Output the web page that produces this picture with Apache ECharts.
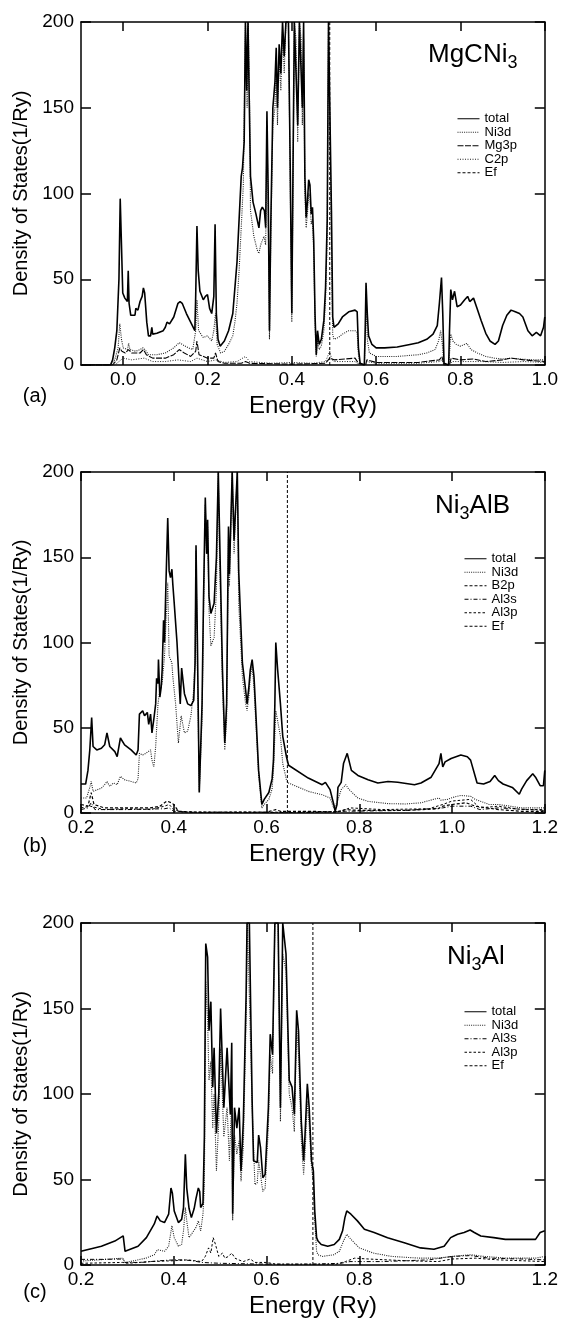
<!DOCTYPE html>
<html><head><meta charset="utf-8">
<script src="https://cdn.jsdelivr.net/npm/echarts@6/dist/echarts.min.js"></script>
<style>html,body{margin:0;padding:0;background:#fff}#c{width:561px;height:1324px}</style>
</head><body><div id="c"></div>
<script>
const FONT = '"Liberation Sans", Arial, Helvetica, sans-serif';
const aTicks = [0.0, 0.2, 0.4, 0.6, 0.8, 1.0];
const bcTicks = [0.2, 0.4, 0.6, 0.8, 1.0, 1.2];
const yTicks = [0, 50, 100, 150, 200];
const a_ef = 0.49, b_ef = 0.645, c_ef = 0.70;

// ---- panel (a) MgCNi3 ----
const a_total = [[-0.1,0],[-0.03,0],[-0.025,3],[-0.02,10],[-0.015,20],[-0.01,50],[-0.007,97],[-0.004,70],[-0.001,42],[0.004,39],[0.01,37],[0.012,55],[0.014,36],[0.018,29],[0.028,29],[0.03,33],[0.035,32],[0.04,37],[0.045,40],[0.048,45],[0.051,42],[0.056,25],[0.06,17],[0.065,17],[0.068,22],[0.07,18],[0.08,18.5],[0.095,20],[0.1,22],[0.104,25],[0.11,24],[0.12,28],[0.13,36],[0.135,37],[0.14,36],[0.15,30],[0.16,25],[0.17,20],[0.172,40],[0.175,81],[0.178,55],[0.182,43],[0.19,38],[0.195,40],[0.2,41],[0.205,33],[0.21,30],[0.215,40],[0.218,82],[0.221,30],[0.225,15],[0.23,11],[0.24,14],[0.25,20],[0.26,30],[0.265,45],[0.27,60],[0.275,85],[0.28,110],[0.283,115],[0.287,130],[0.29,200],[0.293,160],[0.296,200],[0.3,200],[0.302,110],[0.308,95],[0.315,88],[0.322,80],[0.326,90],[0.33,92],[0.335,90],[0.338,80],[0.341,148],[0.344,100],[0.347,20],[0.35,80],[0.355,150],[0.36,165],[0.363,185],[0.366,150],[0.37,187],[0.374,170],[0.378,200],[0.382,180],[0.386,200],[0.392,200],[0.396,120],[0.4,30],[0.403,120],[0.406,200],[0.41,200],[0.414,140],[0.418,200],[0.422,200],[0.425,150],[0.428,200],[0.431,110],[0.434,86],[0.437,95],[0.44,108],[0.443,105],[0.446,88],[0.449,92],[0.452,72],[0.455,30],[0.458,6],[0.461,20],[0.465,12],[0.47,15],[0.476,26],[0.48,45],[0.484,85],[0.487,200],[0.491,200],[0.494,90],[0.497,28],[0.5,22],[0.51,24],[0.52,28],[0.535,31],[0.55,32],[0.555,31],[0.558,10],[0.562,1],[0.572,0],[0.574,20],[0.576,48],[0.579,30],[0.582,17],[0.59,12],[0.6,10],[0.62,10],[0.65,10.5],[0.68,12],[0.7,13],[0.72,15],[0.735,18],[0.745,23],[0.75,36],[0.755,51],[0.758,30],[0.761,1],[0.772,0],[0.774,20],[0.777,44],[0.781,38],[0.786,43],[0.792,34],[0.8,35],[0.81,38],[0.817,40],[0.822,37],[0.831,39],[0.838,34],[0.849,26],[0.86,18.5],[0.87,14],[0.882,12],[0.89,14],[0.9,23],[0.91,29],[0.92,32],[0.93,31],[0.94,30],[0.948,28],[0.96,20],[0.97,17],[0.98,19],[0.99,17],[0.997,22],[1.0,28]];
const a_ni3d = [[-0.1,0],[-0.03,0],[-0.02,3],[-0.012,10],[-0.008,24],[-0.004,15],[0.0,10],[0.01,9],[0.013,12.6],[0.016,9],[0.03,8],[0.04,9],[0.047,10],[0.052,9],[0.06,6],[0.08,6],[0.1,7],[0.12,10],[0.133,13],[0.14,12],[0.155,10],[0.165,9],[0.172,20],[0.175,38],[0.179,20],[0.19,16],[0.2,17],[0.21,14],[0.215,20],[0.219,30],[0.223,12],[0.231,7],[0.24,8],[0.25,12],[0.26,17],[0.265,25],[0.27,36],[0.275,55],[0.28,80],[0.285,105],[0.29,200],[0.294,150],[0.297,200],[0.3,150],[0.302,90],[0.31,75],[0.318,67],[0.322,65],[0.326,70],[0.334,75],[0.338,70],[0.341,140],[0.344,90],[0.347,15],[0.35,70],[0.355,140],[0.36,150],[0.363,175],[0.366,140],[0.37,180],[0.374,160],[0.378,195],[0.382,170],[0.386,200],[0.392,200],[0.396,110],[0.4,25],[0.403,110],[0.406,200],[0.41,190],[0.414,130],[0.418,200],[0.422,190],[0.425,140],[0.428,190],[0.431,100],[0.434,80],[0.437,88],[0.44,100],[0.443,98],[0.446,82],[0.449,85],[0.452,65],[0.455,25],[0.458,5],[0.461,15],[0.465,9],[0.47,11],[0.476,20],[0.48,38],[0.484,75],[0.487,200],[0.491,200],[0.494,70],[0.497,18],[0.5,15],[0.51,16],[0.52,18],[0.535,20],[0.55,20],[0.555,19],[0.558,6],[0.562,0.5],[0.572,0],[0.574,15],[0.576,36],[0.579,15],[0.584,7],[0.6,5],[0.65,5],[0.7,6],[0.72,7],[0.74,9],[0.748,14],[0.753,20],[0.757,12],[0.761,0.5],[0.772,0],[0.775,10],[0.777,18],[0.782,14],[0.79,12],[0.8,11],[0.815,12.6],[0.825,9],[0.84,7],[0.86,5],[0.88,4],[0.9,3.5],[0.92,4],[0.94,3.5],[0.97,3],[1.0,3]];
const a_mg3p = [[-0.1,0],[-0.025,0],[-0.015,3],[-0.008,10],[-0.003,8],[0.005,7],[0.013,9],[0.02,7],[0.04,7],[0.048,9],[0.055,6],[0.07,4],[0.1,4],[0.12,6],[0.133,9],[0.145,7],[0.16,5],[0.172,8],[0.175,14],[0.18,6],[0.2,4],[0.215,4],[0.219,7],[0.225,2],[0.24,1],[0.28,1],[0.29,2],[0.3,1],[0.4,0.5],[0.48,1],[0.49,4],[0.5,3],[0.55,4],[0.558,1],[0.562,0],[0.575,0],[0.578,3],[0.6,1.5],[0.7,1.5],[0.75,3],[0.756,5],[0.761,0],[0.774,0],[0.778,4],[0.8,3],[0.83,3.5],[0.86,2],[0.9,3],[0.92,4],[0.95,3],[1.0,2]];
const a_c2p = [[-0.1,0],[-0.02,0],[-0.01,2],[0.0,4],[0.02,3],[0.05,4],[0.07,2],[0.1,2],[0.13,3],[0.16,2],[0.175,4],[0.2,2],[0.22,3],[0.24,1.5],[0.27,2],[0.29,5],[0.3,2],[0.35,1],[0.4,1.5],[0.45,1],[0.48,2],[0.49,8],[0.495,3],[0.5,2],[0.55,2],[0.558,0.5],[0.575,0],[0.578,2],[0.6,1],[0.7,1],[0.75,2],[0.756,3],[0.761,0],[0.774,0],[0.78,2],[0.8,2],[0.85,2],[0.9,1.5],[0.95,2],[1.0,1.5]];

// ---- panel (b) Ni3AlB ----
const b_total = [[0.2,17],[0.21,17],[0.215,25],[0.219,37],[0.223,56],[0.226,39],[0.234,37],[0.244,38],[0.251,40],[0.256,47],[0.262,39],[0.273,36],[0.278,33],[0.285,44],[0.294,40],[0.308,37],[0.319,34],[0.323,37],[0.326,58],[0.333,60],[0.337,57],[0.343,59],[0.346,52],[0.35,58],[0.353,47],[0.357,55],[0.361,64],[0.363,79],[0.366,76],[0.367,90],[0.37,68],[0.373,74],[0.375,84],[0.378,113],[0.38,100],[0.383,133],[0.387,173],[0.39,142],[0.393,138],[0.396,143],[0.398,134],[0.401,123],[0.407,100],[0.414,64],[0.417,85],[0.423,70],[0.43,64],[0.437,63],[0.443,66],[0.446,88],[0.448,157],[0.451,100],[0.455,12],[0.461,64],[0.464,123],[0.468,185],[0.471,152],[0.473,172],[0.476,127],[0.48,117],[0.487,123],[0.492,150],[0.496,200],[0.498,200],[0.505,84],[0.51,41],[0.514,64],[0.518,168],[0.52,140],[0.526,200],[0.53,160],[0.537,200],[0.54,142],[0.548,88],[0.555,72],[0.558,64],[0.562,74],[0.565,84],[0.569,90],[0.573,80],[0.576,64],[0.583,25],[0.59,5],[0.595,8],[0.605,12],[0.612,20],[0.615,31],[0.618,64],[0.62,100],[0.624,84],[0.63,64],[0.635,45],[0.643,33],[0.6475,28],[0.69,20.5],[0.72,16.6],[0.727,18],[0.737,13.7],[0.745,5],[0.748,1],[0.752,5],[0.754,15],[0.761,18],[0.766,29],[0.774,35],[0.777,34],[0.783,25],[0.797,22],[0.819,19.5],[0.84,17.6],[0.862,18.5],[0.883,18],[0.919,16.6],[0.933,17.6],[0.955,21],[0.972,29],[0.976,35],[0.98,27],[0.985,30],[0.998,32],[1.019,34],[1.033,33],[1.04,31],[1.054,17.6],[1.068,17],[1.082,18.5],[1.092,22],[1.1,19],[1.11,17],[1.13,15],[1.145,11],[1.15,14],[1.161,19],[1.174,23],[1.18,21],[1.19,16],[1.197,16],[1.2,25]];
const b_ni3d = [[0.2,8.8],[0.212,8.8],[0.219,15],[0.222,18.5],[0.226,12.7],[0.244,14.6],[0.251,16.6],[0.256,18.5],[0.262,15.6],[0.27,17.6],[0.278,16.6],[0.285,21.5],[0.294,19.5],[0.308,18.5],[0.319,17.6],[0.323,20],[0.326,35],[0.333,34],[0.34,35],[0.35,37],[0.353,31],[0.357,27],[0.361,39],[0.366,64],[0.37,72],[0.375,76],[0.38,92],[0.387,135],[0.39,92],[0.396,88],[0.398,80],[0.404,64],[0.41,41],[0.416,57],[0.423,47],[0.43,48],[0.437,57],[0.443,72],[0.446,92],[0.448,154],[0.451,84],[0.455,12.7],[0.461,55],[0.464,113],[0.468,181],[0.471,152],[0.473,168],[0.476,119],[0.48,98],[0.487,103],[0.492,131],[0.496,200],[0.498,160],[0.505,74],[0.51,37],[0.514,55],[0.518,162],[0.52,133],[0.526,200],[0.53,152],[0.537,200],[0.54,123],[0.548,80],[0.555,64],[0.558,60],[0.562,68],[0.565,80],[0.569,86],[0.573,74],[0.576,58],[0.583,21.5],[0.59,3],[0.595,5],[0.605,8],[0.612,14],[0.615,25],[0.618,45],[0.62,60],[0.624,54],[0.63,45],[0.635,29],[0.643,19.5],[0.6475,17.6],[0.69,12.7],[0.72,10.7],[0.737,8.8],[0.745,3],[0.748,2],[0.752,6],[0.761,13.7],[0.771,16.6],[0.777,14],[0.797,8.8],[0.819,6.8],[0.862,5.5],[0.9,5.3],[0.933,6],[0.96,8],[0.972,8.8],[0.976,7.5],[0.99,8],[1.0,9],[1.019,10.3],[1.04,9.8],[1.05,8],[1.08,5],[1.1,5],[1.15,3],[1.2,3]];
const b_b2p = [[0.2,5],[0.215,4],[0.222,12],[0.228,5],[0.25,3],[0.3,3],[0.35,3],[0.37,4],[0.385,7],[0.395,6],[0.4,5],[0.41,1],[0.45,0.5],[0.6,0.5],[0.62,2],[0.63,1],[0.7,1],[0.75,0.5],[0.77,2],[0.8,1.5],[0.9,1.5],[0.97,2.5],[0.98,4],[1.0,5],[1.03,6],[1.05,4],[1.1,2],[1.15,1],[1.2,1]];
const b_al3s = [[0.2,2],[0.215,3],[0.222,6],[0.23,2],[0.3,2],[0.38,2.5],[0.39,3],[0.4,1],[0.45,0.3],[0.7,0.3],[0.77,1],[0.9,1.5],[0.98,3],[1.0,4],[1.04,4],[1.06,2],[1.1,3],[1.2,1.5]];
const b_al3p = [[0.2,3],[0.22,4],[0.25,2],[0.3,2.5],[0.35,2],[0.38,4],[0.39,5],[0.4,2],[0.42,0.5],[0.6,0.5],[0.7,0.5],[0.76,1],[0.78,3],[0.85,2],[0.95,2.5],[0.98,5],[1.0,7],[1.04,8],[1.06,3],[1.1,4],[1.15,2],[1.2,2]];

// ---- panel (c) Ni3Al ----
const c_total = [[0.2,8],[0.244,11],[0.273,14],[0.291,17],[0.293,18],[0.295,8],[0.323,11],[0.341,16],[0.358,24],[0.364,28.7],[0.371,25.8],[0.38,24.8],[0.389,29.7],[0.394,45],[0.397,42],[0.401,31.6],[0.41,24.8],[0.417,26.7],[0.421,33.6],[0.425,64.8],[0.428,45],[0.433,33],[0.438,27.7],[0.444,33],[0.448,39],[0.453,45],[0.456,43],[0.458,33.6],[0.463,36],[0.466,75],[0.469,188],[0.473,180],[0.476,137],[0.48,154],[0.484,104],[0.487,127],[0.492,77],[0.497,100],[0.501,150],[0.508,92],[0.515,127],[0.518,110],[0.522,88],[0.525,130],[0.527,30],[0.531,92],[0.536,80],[0.541,92],[0.545,55],[0.55,84],[0.556,158],[0.558,200],[0.563,200],[0.569,96],[0.572,61],[0.58,60],[0.583,76],[0.587,69],[0.592,51],[0.597,53],[0.604,92],[0.608,135],[0.613,123],[0.618,200],[0.625,200],[0.63,92],[0.635,200],[0.642,182],[0.649,108],[0.655,104],[0.66,88],[0.665,149],[0.669,137],[0.675,84],[0.68,61],[0.683,76],[0.688,106],[0.692,92],[0.697,61],[0.701,55],[0.704,31.6],[0.708,16],[0.711,14],[0.718,12],[0.732,11],[0.746,12],[0.757,15],[0.764,20],[0.769,27.7],[0.773,31.6],[0.782,29.7],[0.796,25.8],[0.811,20.9],[0.832,19],[0.861,16],[0.897,13],[0.932,10],[0.961,9.2],[0.983,11],[0.997,16],[1.004,17],[1.012,18],[1.026,19],[1.039,20.5],[1.048,19],[1.062,17],[1.09,16],[1.115,15],[1.15,15],[1.18,15],[1.19,19],[1.2,20]];
const c_ni3d = [[0.2,2.3],[0.29,4],[0.295,1.4],[0.34,4],[0.358,6],[0.365,9],[0.38,8],[0.389,11],[0.396,23],[0.401,16],[0.41,11],[0.417,12],[0.421,20],[0.425,33.6],[0.428,25.8],[0.433,16],[0.438,18],[0.448,22],[0.453,25.8],[0.458,20],[0.463,29.7],[0.466,45],[0.469,166],[0.473,143],[0.476,108],[0.48,119],[0.484,80],[0.487,100],[0.492,55],[0.497,84],[0.501,127],[0.508,75],[0.515,92],[0.52,61],[0.525,98],[0.527,26],[0.531,76],[0.536,65],[0.541,73],[0.545,49],[0.55,69],[0.556,143],[0.559,200],[0.563,200],[0.569,92],[0.575,47],[0.58,48],[0.583,61],[0.587,53],[0.592,43],[0.597,45],[0.604,80],[0.608,123],[0.613,112],[0.618,200],[0.625,200],[0.63,84],[0.635,182],[0.642,172],[0.649,100],[0.655,92],[0.66,78],[0.665,139],[0.669,123],[0.675,73],[0.68,53],[0.683,65],[0.688,96],[0.692,82],[0.697,57],[0.701,49],[0.704,26],[0.708,8],[0.711,6],[0.72,5],[0.745,6],[0.757,8],[0.766,14],[0.773,18],[0.782,15],[0.8,10],[0.83,7],[0.87,5],[0.93,4],[0.97,4],[1.0,5],[1.04,6],[1.07,5],[1.12,4],[1.18,4],[1.2,5]];
const c_al3s = [[0.2,3.3],[0.25,3.3],[0.29,3.5],[0.295,1.5],[0.33,1.5],[0.37,2.5],[0.4,3],[0.42,3],[0.44,2.5],[0.46,1.5],[0.5,1],[0.6,0.5],[0.7,0.5],[0.76,1],[0.78,2],[0.85,2],[0.95,3],[1.0,5],[1.04,5.5],[1.08,4],[1.15,3.5],[1.2,3]];
const c_al3p = [[0.2,1],[0.29,1.5],[0.3,1],[0.35,2],[0.4,2.5],[0.43,3],[0.46,2],[0.468,5],[0.475,10],[0.48,7],[0.485,16],[0.49,12],[0.497,5],[0.505,7],[0.51,4],[0.518,5],[0.525,7],[0.532,4],[0.54,3],[0.55,2],[0.565,3.5],[0.575,1.5],[0.6,1.5],[0.62,0.5],[0.75,0.5],[0.77,2],[0.79,4],[0.82,3.5],[0.9,2.5],[0.97,2],[1.0,3.5],[1.05,4],[1.1,3],[1.2,2]];

const STY = {
  total: {type: 'solid', width: 1.6, color: '#000'},
  Ni3d:  {type: [1, 1.2], width: 1.1, color: '#222'},
  Mg3p:  {type: [6, 1.5], width: 1.1, color: '#000'},
  C2p:   {type: [1, 1.5], width: 1, color: '#222'},
  B2p:   {type: [3, 2], width: 1.2, color: '#000'},
  Al3s:  {type: [4, 2, 1, 2], width: 1, color: '#000'},
  Al3p:  {type: [2.5, 2], width: 1, color: '#000'},
  Ef:    {type: [3, 2], width: 1, color: '#000'}
};

const panels = [
  {grid: {left: 81, top: 22, width: 465, height: 343}, xmin: -0.1, xmax: 1.0, ticks: aTicks, ef: a_ef,
   series: [['total', a_total], ['Ni3d', a_ni3d], ['Mg3p', a_mg3p], ['C2p', a_c2p]],
   title: '{m|MgCNi}{s|3}', tx: 428, ty: 42, tag: '(a)', tagY: 396, legLeft: 457, legTop: 112},
  {grid: {left: 81, top: 472, width: 467, height: 341}, xmin: 0.2, xmax: 1.2, ticks: bcTicks, ef: b_ef,
   series: [['total', b_total], ['Ni3d', b_ni3d], ['B2p', b_b2p], ['Al3s', b_al3s], ['Al3p', b_al3p]],
   title: '{m|Ni}{s|3}{m|AlB}', tx: 435, ty: 493, tag: '(b)', tagY: 846, legLeft: 464, legTop: 552},
  {grid: {left: 81, top: 923, width: 467, height: 342}, xmin: 0.2, xmax: 1.2, ticks: bcTicks, ef: c_ef,
   series: [['total', c_total], ['Ni3d', c_ni3d], ['Al3s', c_al3s], ['Al3p', c_al3p]],
   title: '{m|Ni}{s|3}{m|Al}', tx: 447, ty: 944, tag: '(c)', tagY: 1292, legLeft: 464, legTop: 1005}
];

const axisLine = {show: true, onZero: false, lineStyle: {color: '#000', width: 1.5}};
const option = {
  animation: false, backgroundColor: '#fff',
  textStyle: {fontFamily: FONT, color: '#000'},
  grid: [], xAxis: [], yAxis: [], series: [], legend: [], graphic: []
};

panels.forEach((p, i) => {
  option.grid.push(Object.assign({containLabel: false}, p.grid));
  const tickCommon = {show: true, inside: true, length: 9, lineStyle: {color: '#000', width: 1.5}};
  option.xAxis.push({
    type: 'value', gridIndex: i, min: p.xmin, max: p.xmax, position: 'bottom',
    axisLine, splitLine: {show: false},
    axisTick: Object.assign({customValues: p.ticks}, tickCommon),
    axisLabel: {customValues: p.ticks, formatter: v => Number(v).toFixed(1), fontSize: 19, color: '#000', fontFamily: FONT, margin: 5},
    name: 'Energy (Ry)', nameLocation: 'middle', nameGap: 29,
    nameTextStyle: {fontSize: 24, color: '#000', fontFamily: FONT}
  });
  option.xAxis.push({
    type: 'value', gridIndex: i, min: p.xmin, max: p.xmax, position: 'top',
    axisLine, splitLine: {show: false},
    axisTick: Object.assign({customValues: p.ticks}, tickCommon),
    axisLabel: {show: false}
  });
  option.yAxis.push({
    type: 'value', gridIndex: i, min: 0, max: 200, interval: 50, position: 'left',
    axisLine, splitLine: {show: false},
    axisTick: Object.assign({}, tickCommon, {length: 10}),
    axisLabel: {fontSize: 19, color: '#000', fontFamily: FONT, margin: 7, showMinLabel: true, showMaxLabel: true},
    name: 'Density of States(1/Ry)', nameLocation: 'middle', nameGap: 46, nameRotate: 90,
    nameTextStyle: {fontSize: 20, color: '#000', fontFamily: FONT}
  });
  option.yAxis.push({
    type: 'value', gridIndex: i, min: 0, max: 200, interval: 50, position: 'right',
    axisLine, splitLine: {show: false},
    axisTick: Object.assign({}, tickCommon, {length: 10}),
    axisLabel: {show: false}
  });
  const names = [];
  p.series.forEach(([name, data]) => {
    names.push(name);
    option.series.push({
      type: 'line', name, data, xAxisIndex: 2 * i, yAxisIndex: 2 * i,
      symbol: 'none', showSymbol: false, clip: true, z: name === 'total' ? 5 : 3,
      lineStyle: STY[name], itemStyle: {color: '#000'}, emphasis: {disabled: true}
    });
  });
  names.push('Ef');
  option.series.push({
    type: 'line', name: 'Ef', data: [[p.ef, 0], [p.ef, 200]], xAxisIndex: 2 * i, yAxisIndex: 2 * i,
    symbol: 'none', showSymbol: false, lineStyle: STY.Ef, itemStyle: {color: '#000'}, emphasis: {disabled: true}
  });
  option.legend.push({
    data: names, orient: 'vertical', left: p.legLeft, top: p.legTop, padding: 0,
    itemWidth: 22, itemHeight: 10, itemGap: 0, selectedMode: false,
    itemStyle: {opacity: 0}, lineStyle: {width: 1},
    textStyle: {fontSize: 13, lineHeight: 13.5, color: '#000', fontFamily: FONT}
  });
  option.graphic.push({
    type: 'text', x: p.tx, y: p.ty, silent: true,
    style: {
      text: p.title, align: 'left', verticalAlign: 'top', fill: '#000',
      rich: {
        m: {fontSize: 26, fontFamily: FONT, lineHeight: 30, verticalAlign: 'top', fill: '#000'},
        s: {fontSize: 18, fontFamily: FONT, lineHeight: 18, verticalAlign: 'bottom', padding: [18, 0, 0, 0], fill: '#000'}
      }
    }
  });
  option.graphic.push({
    type: 'text', x: 35, y: p.tagY, silent: true,
    style: {text: p.tag, fontSize: 20, fontFamily: FONT, fill: '#000', align: 'center', verticalAlign: 'middle'}
  });
});

const chart = echarts.init(document.getElementById('c'), null, {renderer: 'canvas'});
chart.setOption(option);
</script></body></html>
